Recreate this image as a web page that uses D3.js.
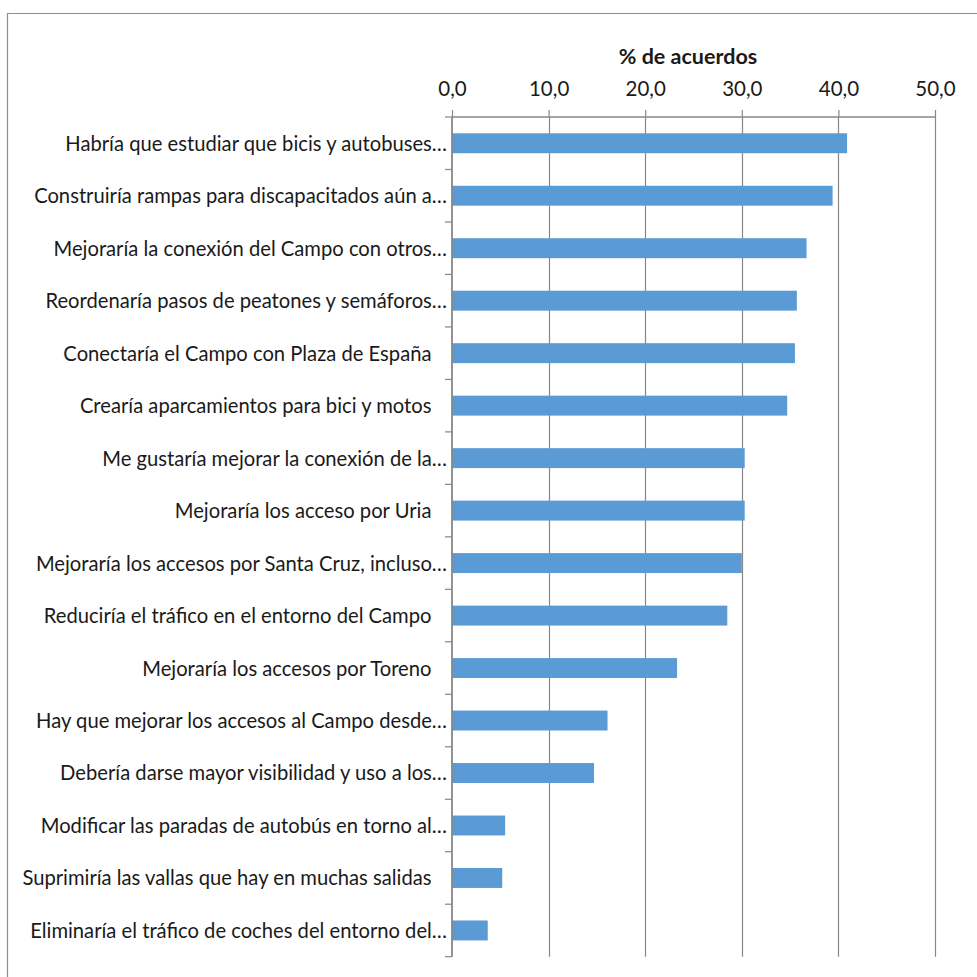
<!DOCTYPE html>
<html>
<head>
<meta charset="utf-8">
<script src="https://cdn.jsdelivr.net/npm/d3@7"></script>
<style>
  html, body { margin: 0; padding: 0; background: #fff; }
  svg { display: block; }
  text { font-family: Lato, "Open Sans", sans-serif; fill: #1a1a1a; }
</style>
</head>
<body>
<svg id="chart" width="977" height="977"></svg>
<script>
const categories = [
  "Habría que estudiar que bicis y autobuses…",
  "Construiría rampas para discapacitados aún a…",
  "Mejoraría la conexión del Campo con otros…",
  "Reordenaría pasos de peatones y semáforos…",
  "Conectaría el Campo con Plaza de España ",
  "Crearía aparcamientos para bici y motos ",
  "Me gustaría mejorar la conexión de la…",
  "Mejoraría los acceso por Uria ",
  "Mejoraría los accesos por Santa Cruz, incluso…",
  "Reduciría el tráfico en el entorno del Campo ",
  "Mejoraría los accesos por Toreno ",
  "Hay que mejorar los accesos al Campo desde…",
  "Debería darse mayor visibilidad y uso a los…",
  "Modificar las paradas de autobús en torno al…",
  "Suprimiría las vallas que hay en muchas salidas ",
  "Eliminaría el tráfico de coches del entorno del…"
];
const values = [40.9, 39.4, 36.7, 35.7, 35.5, 34.7, 30.3, 30.3, 30.0, 28.5, 23.3, 16.1, 14.7, 5.5, 5.2, 3.7];
const tickValues = [0, 10, 20, 30, 40, 50];
const axisTitle = "% de acuerdos";

const svg = d3.select("#chart");
const pLeft = 452, pRight = 935, pTop = 117, pBottom = 956.7;
const gray = "#878787";

// outer chart border (only top & left visible)
svg.append("path")
  .attr("d", `M7.5,977 L7.5,13.5 L977,13.5`)
  .attr("fill", "none").attr("stroke", "#8f8f8f").attr("stroke-width", 1.2);

const x = d3.scaleLinear().domain([0, 50]).range([pLeft, pRight]);
const y = d3.scaleBand().domain(categories).range([pTop, pBottom])
  .paddingInner(0.62).paddingOuter(0.31);

// gridlines
svg.append("g").selectAll("line").data(tickValues.filter(d => d > 0)).join("line")
  .attr("x1", d => Math.round(x(d)) + 0.5).attr("x2", d => Math.round(x(d)) + 0.5)
  .attr("y1", pTop).attr("y2", pBottom)
  .attr("stroke", gray).attr("stroke-width", 1.2);

// bars
svg.append("g").selectAll("rect").data(values).join("rect")
  .attr("x", x(0))
  .attr("y", (d, i) => y(categories[i]))
  .attr("width", d => x(d) - x(0))
  .attr("height", y.bandwidth())
  .attr("fill", "#5B9BD5");

// top axis
const xAxis = d3.axisTop(x).tickValues(tickValues).tickSize(7).tickPadding(14)
  .tickFormat(d => d3.format(".1f")(d).replace(".", ","));
const gx = svg.append("g").attr("transform", `translate(0,${pTop})`).call(xAxis);
gx.select(".domain").attr("stroke", gray).attr("stroke-width", 1.5)
  .attr("d", `M${pLeft},0H${pRight}`);
gx.selectAll(".tick line").attr("stroke", gray).attr("stroke-width", 1.2);
gx.selectAll(".tick text").attr("font-size", 20.5).attr("font-family", "Lato")
  .attr("fill", "#1a1a1a");

// axis title
svg.append("text")
  .attr("x", 688).attr("y", 64)
  .attr("text-anchor", "middle").attr("font-size", 21.5).attr("font-weight", "bold")
  .text(axisTitle);

// left category axis
const gy = svg.append("g");
gy.append("line").attr("x1", pLeft).attr("x2", pLeft).attr("y1", pTop).attr("y2", pBottom)
  .attr("stroke", gray).attr("stroke-width", 1.8);
const boundaries = d3.range(categories.length + 1).map(i => pTop + i * y.step());
gy.selectAll("line.ct").data(boundaries).join("line").attr("class", "ct")
  .attr("x1", pLeft - 7).attr("x2", pLeft).attr("y1", d => d).attr("y2", d => d)
  .attr("stroke", gray).attr("stroke-width", 1.2);
gy.selectAll("text").data(categories).join("text")
  .attr("xml:space", "preserve")
  .attr("x", pLeft - 5)
  .attr("y", d => y(d) + y.bandwidth() / 2)
  .attr("dy", "0.37em")
  .attr("text-anchor", "end")
  .attr("font-size", 20.2)
  .text(d => d.replace(/ $/, "\u00A0\u00A0\u00A0"));
</script>
</body>
</html>
